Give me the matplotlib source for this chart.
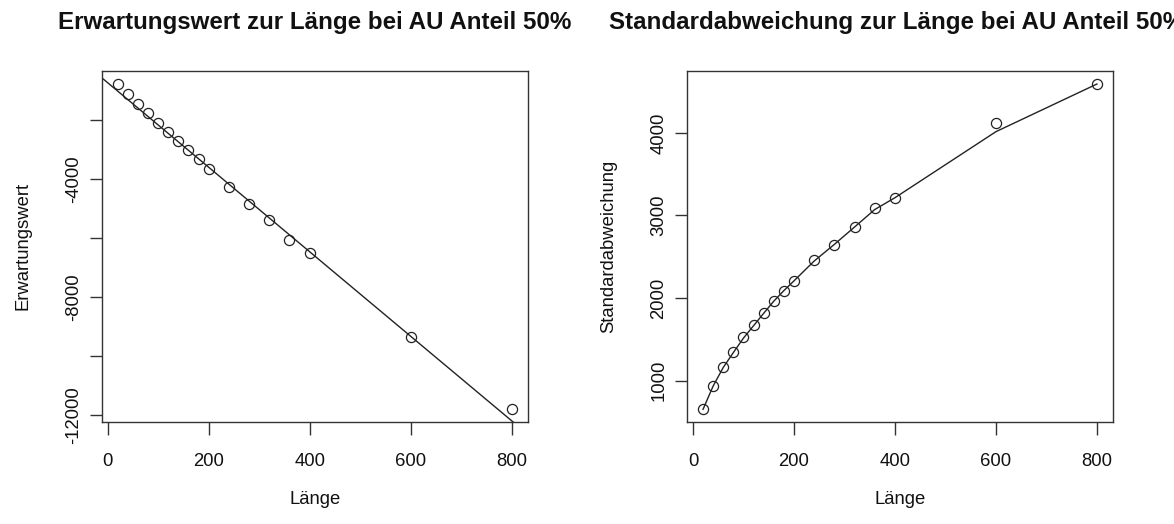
import matplotlib
matplotlib.use("Agg")
import matplotlib.pyplot as plt
import numpy as np

plt.rcParams['font.family'] = ['Liberation Sans', 'DejaVu Sans']

# ---- data ----
laenge = [20, 40, 60, 80, 100, 120, 140, 160, 180, 200, 240, 280, 320, 360, 400, 600, 800]
erwartungswert = [-775, -1126, -1466, -1771, -2088, -2405, -2711, -3005, -3322, -3661,
                  -4273, -4850, -5393, -6061, -6514, -9344, -11811]
erw_line_intercept = -731.0
erw_line_slope = -14.34

standardabw = [653, 940, 1166, 1343, 1525, 1670, 1816, 1969, 2090, 2203,
               2457, 2643, 2857, 3087, 3208, 4124, 4592]
standardabw_fit = [653, 935, 1160, 1340, 1515, 1665, 1815, 1962, 2090, 2208,
                   2448, 2650, 2860, 3072, 3215, 4015, 4592]

x_ticks = [0, 200, 400, 600, 800]
erw_ticks = [-12000, -10000, -8000, -6000, -4000, -2000]
erw_ticklabels = ['-12000', '', '-8000', '', '-4000', '']
sd_ticks = [1000, 2000, 3000, 4000]
sd_ticklabels = ['1000', '2000', '3000', '4000']

title_left = "Erwartungswert zur Länge bei AU Anteil 50%"
title_right = "Standardabweichung zur Länge bei AU Anteil 50%"
ylabel_left = "Erwartungswert"
ylabel_right = "Standardabweichung"
xlabel = "Länge"

# ---- figure ----
W, H = 1174, 524
fig = plt.figure(figsize=(W / 100, H / 100), dpi=100)

def rng(v):
    lo, hi = min(v), max(v)
    d = (hi - lo) * 0.04
    return lo - d, hi + d

box_top, box_bot = 71, 422.3
axL = fig.add_axes([102 / W, 1 - box_bot / H, (527.5 - 102) / W, (box_bot - box_top) / H])
axR = fig.add_axes([687.3 / W, 1 - box_bot / H, (1112.7 - 687.3) / W, (box_bot - box_top) / H])

lc = '#222222'
fs_tick = 13.3

for ax in (axL, axR):
    ax.set_xlim(*rng(laenge))
    for s in ax.spines.values():
        s.set_linewidth(1.0)
        s.set_color('#333333')
    ax.set_xticks(x_ticks)
    ax.set_xticklabels([str(t) for t in x_ticks])
    ax.tick_params(axis='x', direction='out', length=9, width=1.0, color='#333333',
                   labelsize=fs_tick, pad=13, labelcolor='#111111')
    ax.tick_params(axis='y', direction='out', length=9, width=1.0, color='#333333',
                   labelsize=fs_tick, pad=5.5, labelcolor='#111111')

# left panel
axL.set_ylim(*rng(erwartungswert))
axL.plot(laenge, erwartungswert, linestyle='none', marker='o', markersize=7.3,
         markerfacecolor='none', markeredgecolor=lc, markeredgewidth=0.9)
axL.axline((0, erw_line_intercept), slope=erw_line_slope, color=lc, linewidth=1.0)
axL.set_yticks(erw_ticks)
axL.set_yticklabels(erw_ticklabels, rotation=90, va='center')

# right panel
axR.set_ylim(*rng(standardabw))
axR.plot(laenge, standardabw, linestyle='none', marker='o', markersize=7.3,
         markerfacecolor='none', markeredgecolor=lc, markeredgewidth=0.9)
axR.plot(laenge, standardabw_fit, color=lc, linewidth=1.0)
axR.set_yticks(sd_ticks)
axR.set_yticklabels(sd_ticklabels, rotation=90, va='center')

# titles and labels
fig.text(314.7 / W, 1 - 23 / H, title_left, ha='center', va='center',
         fontsize=17.4, fontweight='bold', color='#111111')
fig.text(897 / W, 1 - 23 / H, title_right, ha='center', va='center',
         fontsize=17.4, fontweight='bold', color='#111111')
fig.text(314.7 / W, 1 - 500 / H, xlabel, ha='center', va='center', fontsize=fs_tick, color='#111111')
fig.text(900 / W, 1 - 500 / H, xlabel, ha='center', va='center', fontsize=fs_tick, color='#111111')
fig.text(23 / W, 1 - 246 / H, ylabel_left, ha='center', va='center', rotation=90,
         fontsize=fs_tick, color='#111111')
fig.text(609 / W, 1 - 246 / H, ylabel_right, ha='center', va='center', rotation=90,
         fontsize=fs_tick, color='#111111')

fig.savefig('out.png', dpi=100, facecolor='white')
